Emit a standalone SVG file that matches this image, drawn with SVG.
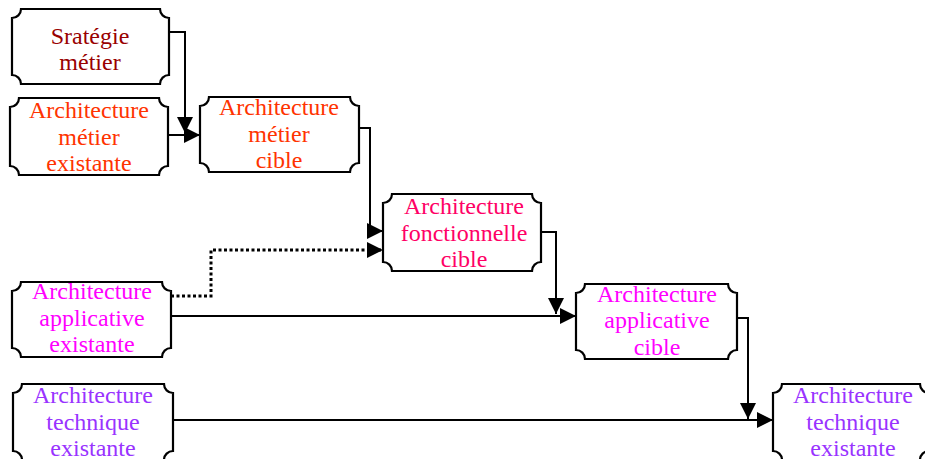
<svg xmlns="http://www.w3.org/2000/svg" width="925" height="459" viewBox="0 0 925 459">
<style>
.box{fill:#fff;stroke:#000;stroke-width:2.2}
.t{font-family:"Liberation Serif","Times New Roman",serif;font-size:24px;text-anchor:middle}
.c{fill:none;stroke:#000;stroke-width:2}
.d{fill:none;stroke:#000;stroke-width:3;stroke-dasharray:3 2.5}
</style>
<defs>
<marker id="ah" markerUnits="userSpaceOnUse" markerWidth="17" markerHeight="16" refX="16" refY="8" orient="auto">
<path d="M0,0 L16,8 L0,16 Z" fill="#000"/>
</marker>
</defs>
<rect width="925" height="459" fill="#fff"/>
<g id="connectors">
<path class="c" d="M169,32 H185 V133" marker-end="url(#ah)"/>
<path class="c" d="M168,135 H200" marker-end="url(#ah)"/>
<path class="c" d="M359,128 H370 V231 H383" marker-end="url(#ah)"/>
<path class="d" d="M171,296 H211 V250 H383" marker-end="url(#ah)"/>
<path class="c" d="M541,232 H556 V314" marker-end="url(#ah)"/>
<path class="c" d="M171,316 H576" marker-end="url(#ah)"/>
<path class="c" d="M737,318 H748 V419" marker-end="url(#ah)"/>
<path class="c" d="M173,420 H773" marker-end="url(#ah)"/>
</g>
<g id="n1">
<path class="box" d="M21,9 H160 A9,9 0 0 0 169,18 V75 A9,9 0 0 0 160,84 H21 A9,9 0 0 0 12,75 V18 A9,9 0 0 0 21,9 Z"/>
<text class="t" fill="#990000"><tspan x="90" y="44">Sratégie</tspan><tspan x="90" y="70">métier</tspan></text>
</g>
<g id="n2">
<path class="box" d="M19,98 H159 A9,9 0 0 0 168,107 V166 A9,9 0 0 0 159,175 H19 A9,9 0 0 0 10,166 V107 A9,9 0 0 0 19,98 Z"/>
<text class="t" fill="#FF3300"><tspan x="89" y="118">Architecture</tspan><tspan x="89" y="145">métier</tspan><tspan x="89" y="171">existante</tspan></text>
</g>
<g id="n3">
<path class="box" d="M209,97 H350 A9,9 0 0 0 359,106 V163 A9,9 0 0 0 350,172 H209 A9,9 0 0 0 200,163 V106 A9,9 0 0 0 209,97 Z"/>
<text class="t" fill="#FF3300"><tspan x="279" y="115">Architecture</tspan><tspan x="279" y="142">métier</tspan><tspan x="279" y="168">cible</tspan></text>
</g>
<g id="n4">
<path class="box" d="M392,194 H532 A9,9 0 0 0 541,203 V262 A9,9 0 0 0 532,271 H392 A9,9 0 0 0 383,262 V203 A9,9 0 0 0 392,194 Z"/>
<text class="t" fill="#FF0066"><tspan x="464" y="214">Architecture</tspan><tspan x="464" y="241">fonctionnelle</tspan><tspan x="464" y="267">cible</tspan></text>
</g>
<g id="n5">
<path class="box" d="M21,282 H162 A9,9 0 0 0 171,291 V348 A9,9 0 0 0 162,357 H21 A9,9 0 0 0 12,348 V291 A9,9 0 0 0 21,282 Z"/>
<text class="t" fill="#FF00FF"><tspan x="92" y="299">Architecture</tspan><tspan x="92" y="326">applicative</tspan><tspan x="92" y="352">existante</tspan></text>
</g>
<g id="n6">
<path class="box" d="M585,284 H728 A9,9 0 0 0 737,293 V350 A9,9 0 0 0 728,359 H585 A9,9 0 0 0 576,350 V293 A9,9 0 0 0 585,284 Z"/>
<text class="t" fill="#FF00FF"><tspan x="657" y="302">Architecture</tspan><tspan x="657" y="328">applicative</tspan><tspan x="657" y="355">cible</tspan></text>
</g>
<g id="n7">
<path class="box" d="M22,384 H164 A9,9 0 0 0 173,393 V451 A9,9 0 0 0 164,460 H22 A9,9 0 0 0 13,451 V393 A9,9 0 0 0 22,384 Z"/>
<text class="t" fill="#9933FF"><tspan x="93" y="403">Architecture</tspan><tspan x="93" y="430">technique</tspan><tspan x="93" y="456">existante</tspan></text>
</g>
<g id="n8">
<path class="box" d="M782,384 H920 A9,9 0 0 0 929,393 V451 A9,9 0 0 0 920,460 H782 A9,9 0 0 0 773,451 V393 A9,9 0 0 0 782,384 Z"/>
<text class="t" fill="#9933FF"><tspan x="853" y="403">Architecture</tspan><tspan x="853" y="430">technique</tspan><tspan x="853" y="456">existante</tspan></text>
</g>
</svg>
